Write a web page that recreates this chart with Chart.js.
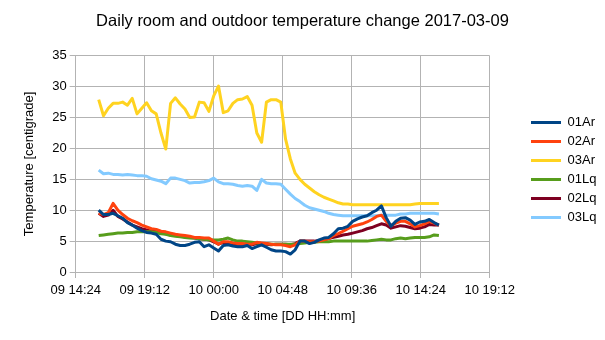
<!DOCTYPE html>
<html>
<head>
<meta charset="utf-8">
<script src="https://cdn.jsdelivr.net/npm/chart.js@4.4.1/dist/chart.umd.min.js"></script>
<style>
  html, body { margin: 0; padding: 0; background: #fff; }
  #wrap { width: 605px; height: 340px; }
</style>
</head>
<body>
<div id="wrap"><canvas id="chart" width="605" height="340"></canvas></div>
<script>
// minutes since 09 00:00, one sample every 20 min from 09 16:00
const sampleStart = 960;
const sampleStep = 20;

const seriesNames = ['01Ar', '02Ar', '03Ar', '01Lq', '02Lq', '03Lq'];
const seriesColors = ['#004586', '#ff420e', '#ffd320', '#579d1c', '#7e0021', '#83caff'];

const temp01Ar = [10.0, 9.3, 9.3, 9.5, 9.1, 8.7, 8.0, 7.6, 7.1, 6.7, 6.4, 6.3, 6.1, 5.3, 5.0, 4.9, 4.5, 4.3, 4.3, 4.5,
  4.8, 4.9, 4.1, 4.4, 3.9, 3.4, 4.3, 4.4, 4.2, 4.1, 4.1, 4.3, 3.8, 4.1, 4.4, 4.0, 3.6, 3.4, 3.4, 3.3,
  2.9, 3.6, 5.0, 5.0, 4.6, 4.8, 5.2, 5.5, 5.6, 6.2, 7.0, 7.1, 7.4, 8.2, 8.6, 8.9, 9.1, 9.6, 10.0, 10.7,
  8.8, 7.4, 8.2, 8.7, 8.8, 8.4, 7.7, 8.1, 8.2, 8.5, 8.0, 7.6];
const temp02Ar = [9.5, 9.3, 9.6, 11.1, 10.0, 9.3, 8.7, 8.3, 8.0, 7.6, 7.3, 7.0, 6.9, 6.6, 6.5, 6.3, 6.1, 6.0, 5.9, 5.8,
  5.6, 5.6, 5.5, 5.5, 5.0, 4.5, 4.9, 4.9, 4.7, 4.6, 4.6, 4.5, 4.5, 4.8, 4.7, 4.6, 4.5, 4.4, 4.4, 4.3,
  4.1, 4.4, 5.0, 5.0, 4.9, 4.9, 5.0, 5.2, 5.4, 5.9, 6.2, 6.6, 7.0, 7.4, 7.6, 7.8, 8.1, 8.5, 9.0, 9.2,
  8.2, 7.5, 7.9, 8.2, 8.2, 7.8, 7.3, 7.5, 7.8, 8.2, 7.9, 7.6];
const temp03Ar = [27.9, 25.3, 26.5, 27.3, 27.3, 27.5, 27.0, 28.1, 25.6, 26.5, 27.4, 26.1, 25.6, 22.5, 19.9, 27.3, 28.2, 27.2, 26.4, 25.0,
  25.1, 27.5, 27.4, 26.0, 28.5, 30.1, 25.8, 26.1, 27.3, 27.9, 28.0, 28.4, 27.0, 22.5, 21.0, 27.5, 27.9, 27.9, 27.5, 21.5,
  18.3, 16.0, 15.0, 14.2, 13.6, 13.0, 12.5, 12.1, 11.8, 11.5, 11.2, 11.0, 11.0, 10.9, 10.9, 10.9, 10.9, 10.9, 10.9, 10.9,
  10.9, 10.9, 10.9, 10.9, 10.9, 10.9, 11.0, 11.1, 11.1, 11.1, 11.1, 11.1];
const temp01Lq = [5.9, 6.0, 6.1, 6.2, 6.3, 6.3, 6.4, 6.4, 6.5, 6.5, 6.5, 6.5, 6.4, 6.2, 6.1, 5.9, 5.8, 5.7, 5.6, 5.5,
  5.5, 5.4, 5.3, 5.2, 5.2, 5.2, 5.3, 5.5, 5.2, 5.0, 5.0, 4.9, 4.8, 4.7, 4.6, 4.6, 4.5, 4.5, 4.5, 4.5,
  4.5, 4.5, 4.6, 4.7, 4.8, 4.8, 4.9, 4.9, 4.9, 5.0, 5.0, 5.0, 5.0, 5.0, 5.0, 5.0, 5.0, 5.1, 5.2, 5.3,
  5.2, 5.2, 5.4, 5.5, 5.4, 5.5, 5.6, 5.6, 5.6, 5.7, 6.0, 5.9];
const temp02Lq = [9.5, 9.0, 9.2, 10.0, 9.0, 8.6, 8.1, 7.6, 7.3, 7.0, 6.8, 6.6, 6.5, 6.3, 6.2, 6.0, 5.9, 5.8, 5.7, 5.6,
  5.5, 5.4, 5.3, 5.2, 4.9, 4.5, 4.8, 4.7, 4.6, 4.5, 4.5, 4.4, 4.4, 4.6, 4.6, 4.5, 4.4, 4.5, 4.5, 4.5,
  4.4, 4.6, 5.0, 5.0, 5.0, 5.0, 5.1, 5.2, 5.4, 5.6, 5.8, 6.0, 6.1, 6.3, 6.5, 6.7, 7.0, 7.2, 7.5, 7.8,
  7.6, 7.1, 7.3, 7.5, 7.4, 7.2, 7.0, 7.1, 7.3, 7.7, 7.6, 7.6];
const temp03Lq = [16.5, 15.9, 16.0, 15.8, 15.8, 15.7, 15.8, 15.7, 15.6, 15.6, 15.5, 15.1, 14.9, 14.7, 14.3, 15.2, 15.2, 15.0, 14.8, 14.4,
  14.5, 14.5, 14.6, 14.8, 15.2, 14.6, 14.3, 14.3, 14.2, 14.0, 13.9, 14.0, 13.9, 13.2, 15.0, 14.4, 14.3, 14.3, 14.2, 13.4,
  12.6, 11.9, 11.4, 10.8, 10.4, 10.2, 10.0, 9.8, 9.5, 9.3, 9.2, 9.1, 9.1, 9.1, 9.1, 9.1, 9.1, 9.1, 9.1, 9.2,
  9.2, 9.2, 9.2, 9.4, 9.4, 9.5, 9.5, 9.5, 9.5, 9.5, 9.5, 9.4];

const allSeries = [temp01Ar, temp02Ar, temp03Ar, temp01Lq, temp02Lq, temp03Lq];

// x axis: 09 14:24 .. 10 19:12, gridline every 4h48
const xMin = 864;
const xMax = 2592;
const xStep = 288;
const yTicks = [0, 5, 10, 15, 20, 25, 30, 35];

const times = temp01Ar.map((_, i) => sampleStart + i * sampleStep);

function fmtTime(v) {
    const day = 9 + Math.floor(v / 1440);
    const m = v % 1440;
    const hh = String(Math.floor(m / 60)).padStart(2, '0');
    const mm = String(m % 60).padStart(2, '0');
    return String(day).padStart(2, '0') + ' ' + hh + ':' + mm;
}

const font = 'Liberation Sans';
const gridColor = '#b3b3b3';
const legendLeft = 525;   // legend sits to the far right, not against the plot

Chart.defaults.font.family = font;
Chart.defaults.color = '#000';

// the x axis right padding pushes the legend inward, move it back out
const legendShift = {
    id: 'legendShift',
    afterLayout(chart) {
        const lg = chart.legend;
        if (!lg) return;
        const d = legendLeft - lg.left;
        lg.left += d;
        lg.right += d;
    }
};

new Chart(document.getElementById('chart'), {
    type: 'line',
    data: {
        datasets: allSeries.map((vals, k) => ({
            label: seriesNames[k],
            data: vals.map((v, i) => ({ x: times[i], y: v })),
            borderColor: seriesColors[k],
            backgroundColor: seriesColors[k],
            borderWidth: 3,
            borderJoinStyle: 'round',
            pointRadius: 0,
            tension: 0,
            fill: false
        }))
    },
    plugins: [legendShift],
    options: {
        responsive: false,
        animation: false,
        devicePixelRatio: 1,
        layout: { padding: 0 },
        plugins: {
            title: {
                display: true,
                text: 'Daily room and outdoor temperature change 2017-03-09',
                font: { size: 16.5, weight: 'normal' },
                color: '#000',
                padding: { top: 12, bottom: 24 }
            },
            legend: {
                position: 'right',
                labels: {
                    boxWidth: 30,
                    boxHeight: 3,
                    padding: 6,
                    font: { size: 13 },
                    color: '#000',
                    generateLabels(chart) {
                        const items = Chart.defaults.plugins.legend.labels.generateLabels(chart);
                        items.forEach(it => { it.fillStyle = it.strokeStyle; it.lineWidth = 0; });
                        return items;
                    }
                }
            },
            tooltip: { enabled: false }
        },
        scales: {
            x: {
                type: 'linear',
                min: xMin,
                max: xMax,
                afterBuildTicks(scale) {
                    const t = [];
                    for (let v = xMin; v <= xMax; v += xStep) t.push({ value: v });
                    scale.ticks = t;
                },
                afterFit(scale) {
                    scale.height = 68;
                    scale.paddingRight = 115.3;
                },
                ticks: {
                    callback: v => fmtTime(v),
                    font: { size: 13 },
                    color: '#000',
                    padding: 5,
                    maxRotation: 0,
                    autoSkip: false
                },
                grid: { color: gridColor, tickLength: 6 },
                border: { color: gridColor },
                title: {
                    display: true,
                    text: 'Date & time [DD HH:mm]',
                    font: { size: 13 },
                    color: '#000',
                    padding: { top: 0, bottom: 16 }
                }
            },
            y: {
                min: 0,
                max: 35,
                afterBuildTicks(scale) {
                    scale.ticks = yTicks.map(v => ({ value: v }));
                },
                afterFit(scale) {
                    scale.width = 75.7;
                },
                ticks: {
                    font: { size: 13 },
                    color: '#000',
                    padding: 3
                },
                grid: { color: gridColor, tickLength: 6 },
                border: { color: gridColor },
                title: {
                    display: true,
                    text: 'Temperature [centigrade]',
                    font: { size: 13 },
                    color: '#000',
                    padding: { top: 22, bottom: 0 }
                }
            }
        }
    }
});
</script>
</body>
</html>
